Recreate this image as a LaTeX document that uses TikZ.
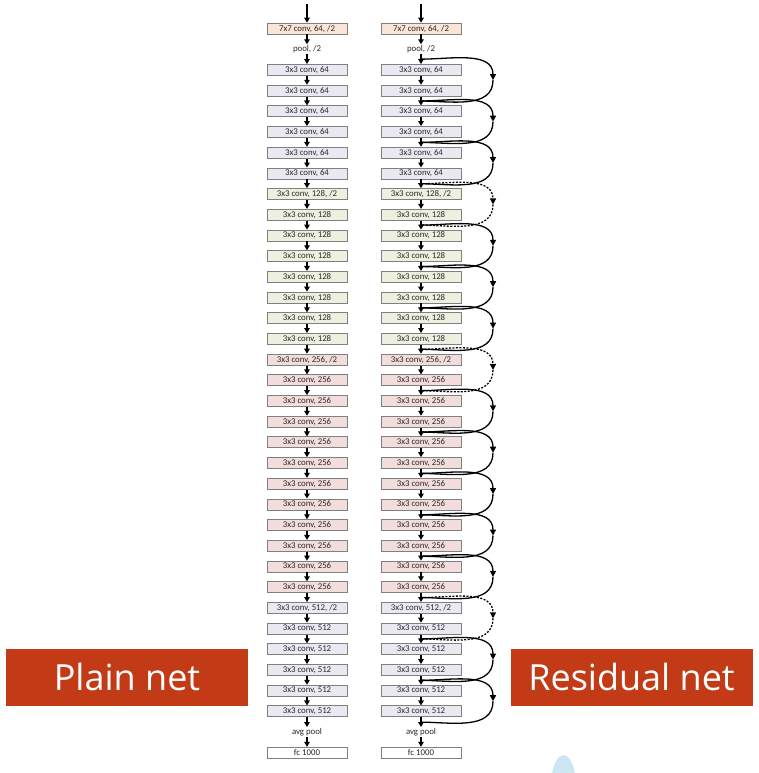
\documentclass[tikz,border=0pt]{standalone}
\usepackage{fontspec}
\setmainfont{Carlito}
\newfontfamily\bigf{Open Sans}
\usetikzlibrary{arrows.meta,calc}
\definecolor{cpeach}{RGB}{251,229,214}
\definecolor{cgray}{RGB}{233,234,241}
\definecolor{cgreen}{RGB}{236,241,223}
\definecolor{cpink}{RGB}{243,221,220}
\definecolor{cedge}{RGB}{128,128,128}
\definecolor{lblred}{RGB}{195,58,22}
\definecolor{blobc}{RGB}{205,230,243}
\definecolor{ctext}{RGB}{40,40,40}
\tikzset{
  box/.style={draw=cedge, line width=0.8pt, minimum width=80pt, minimum height=11pt, inner sep=0pt, text=ctext, font=\fontsize{8.8}{9}\selectfont},
  txt/.style={inner sep=1pt, text=ctext, font=\fontsize{8.8}{9}\selectfont},
  arr/.style={line width=1.2pt, -{Triangle[length=5pt,width=5.5pt]}},
  skiparc/.style={line width=1.3pt},
  skipdash/.style={dash pattern=on 2pt off 1.5pt},
  lbl/.style={fill=lblred, text=white, minimum width=242pt, minimum height=57pt, inner sep=0pt, font=\bigf\fontsize{36}{40}\selectfont},
  declare function={yy(\i)=773-28.6-(\i-1)*20.69;}
}
\newcommand\netcolumn[2]{%
  \coordinate (#1-0) at (#2,769);
  \node[box, fill=cpeach] (#1-1) at (#2,{yy(1)}) {7x7 conv, 64, /2};
  \node[txt] (#1-2) at (#2,{yy(2)}) {pool, /2};
  \foreach \i in {3,...,8} \node[box, fill=cgray] (#1-\i) at (#2,{yy(\i)}) {3x3 conv, 64};
  \node[box, fill=cgreen] (#1-9) at (#2,{yy(9)}) {3x3 conv, 128, /2};
  \foreach \i in {10,...,16} \node[box, fill=cgreen] (#1-\i) at (#2,{yy(\i)}) {3x3 conv, 128};
  \node[box, fill=cpink] (#1-17) at (#2,{yy(17)}) {3x3 conv, 256, /2};
  \foreach \i in {18,...,28} \node[box, fill=cpink] (#1-\i) at (#2,{yy(\i)}) {3x3 conv, 256};
  \node[box, fill=cgray] (#1-29) at (#2,{yy(29)}) {3x3 conv, 512, /2};
  \foreach \i in {30,...,34} \node[box, fill=cgray] (#1-\i) at (#2,{yy(\i)}) {3x3 conv, 512};
  \node[txt] (#1-35) at (#2,{yy(35)}) {avg pool};
  \node[box, fill=white] (#1-36) at (#2,{yy(36)}) {fc 1000};
  \draw[arr] (#1-0) -- (#1-1.north);
  \foreach \i in {1,...,35} {
    \pgfmathtruncatemacro\j{\i+1}
    \draw[arr] (#1-\i.south) -- (#1-\j.north);
  }
}
\begin{document}
\begin{tikzpicture}[x=1pt,y=1pt]
\useasboundingbox (0,0) rectangle (758,773);
\netcolumn{L}{307}
\netcolumn{R}{421}
% gap points on the residual column
\foreach \k in {3,...,35} {
  \pgfmathtruncatemacro\p{\k-1}
  \coordinate (g-\k) at ($(R-\p.south)!0.5!(R-\k.north)$);
}
% shortcut connections
\foreach \k/\sty in {3/solid,5/solid,7/solid,9/skipdash,11/solid,13/solid,15/solid,17/skipdash,19/solid,21/solid,23/solid,25/solid,27/solid,29/skipdash,31/solid,33/solid} {
  \pgfmathtruncatemacro\m{\k+2}
  \coordinate (m-\k) at ($(g-\k)!0.5!(g-\m)+(72,0)$);
  \draw[skiparc,\sty,-{Triangle[length=6pt,width=6pt]}] (g-\k) to[out=0,in=90] (m-\k);
  \draw[skiparc,\sty] (m-\k) to[out=-90,in=0] (g-\m);
}
% labels
\node[lbl] (plain) at (127,95.5) {Plain net};
\node[lbl] (resid) at (631.5,95.5) {Residual net};
% blob
\fill[blobc] (552,0) .. controls (557,24) and (570,24) .. (575,0);
\end{tikzpicture}
\end{document}
